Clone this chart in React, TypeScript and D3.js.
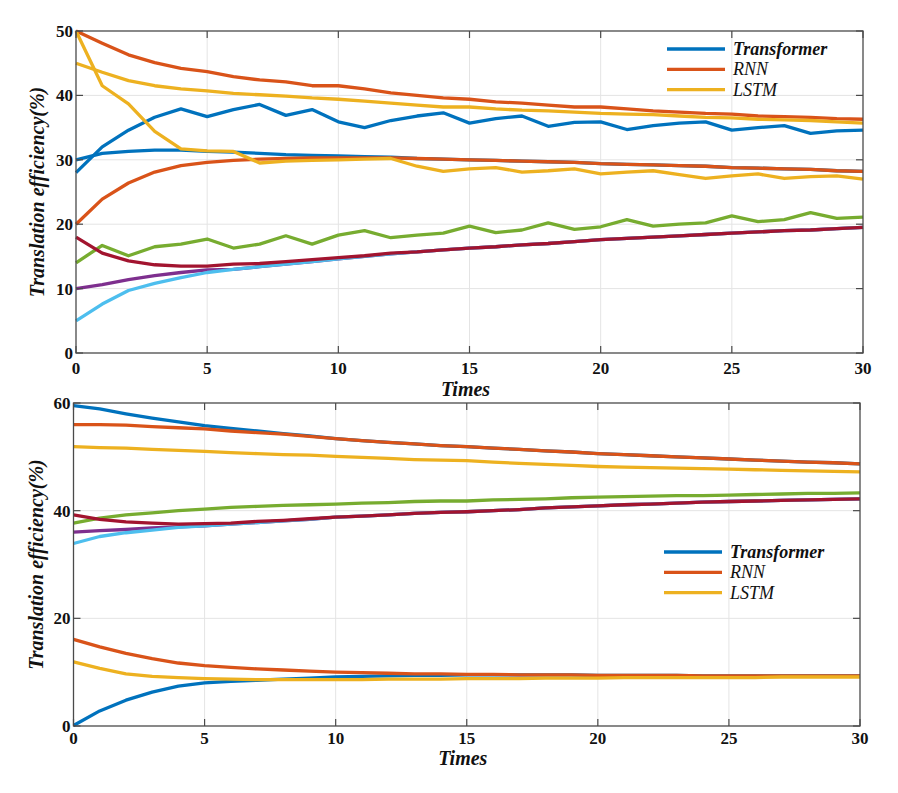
import React from 'react';
import * as d3 from 'd3';

const times = [0,1,2,3,4,5,6,7,8,9,10,11,12,13,14,15,16,17,18,19,20,21,22,23,24,25,26,27,28,29,30];
const xTicks = [0,5,10,15,20,25,30];
const topYTicks = [0,10,20,30,40,50];
const bottomYTicks = [0,20,40,60];
const legendNames = ['Transformer','RNN','LSTM'];

// MATLAB default colour order
const C = {
  blue: '#0072BD', orange: '#D95319', yellow: '#EDB120', purple: '#7E2F8E',
  green: '#77AC30', cyan: '#4DBEEE', wine: '#A2142F',
};

// ---- top panel ----
const topTransformerA = [28,32,34.6,36.6,37.9,36.7,37.8,38.6,36.9,37.8,35.9,35.0,36.1,36.8,37.3,35.7,36.4,36.8,35.2,35.8,35.9,34.7,35.3,35.7,35.9,34.6,35.0,35.3,34.1,34.5,34.6];
const topTransformerB = [30,31,31.3,31.5,31.5,31.3,31.2,31.0,30.8,30.7,30.6,30.5,30.4,30.2,30.1,30.0,29.9,29.8,29.7,29.6,29.4,29.3,29.2,29.1,29.0,28.8,28.7,28.6,28.5,28.3,28.2];
const topRnnA = [50,48.1,46.3,45.1,44.2,43.7,42.9,42.4,42.1,41.5,41.5,41.0,40.4,40.0,39.6,39.4,39.0,38.8,38.5,38.2,38.2,37.9,37.6,37.4,37.2,37.1,36.8,36.7,36.6,36.4,36.3];
const topRnnB = [20,23.9,26.4,28.1,29.1,29.6,29.9,30.1,30.2,30.3,30.3,30.3,30.3,30.2,30.1,30.0,29.9,29.8,29.7,29.6,29.4,29.3,29.2,29.1,29.0,28.8,28.7,28.6,28.5,28.3,28.2];
const topLstmA = [45,43.6,42.3,41.5,41.0,40.7,40.3,40.1,39.9,39.6,39.4,39.1,38.8,38.5,38.2,38.2,37.9,37.7,37.6,37.4,37.2,37.1,37.0,36.8,36.6,36.5,36.3,36.2,36.1,35.9,35.7];
const topLstmB = [50,41.5,38.7,34.4,31.7,31.4,31.3,29.5,29.8,29.9,30.0,30.1,30.2,29.0,28.2,28.6,28.8,28.1,28.3,28.6,27.8,28.1,28.3,27.7,27.1,27.5,27.8,27.1,27.4,27.5,27.0];
const topPurple = [10,10.6,11.4,12.0,12.5,12.9,13.0,13.4,13.8,14.2,14.6,15.0,15.4,15.7,16.0,16.3,16.5,16.8,17.0,17.3,17.6,17.8,18.0,18.2,18.4,18.6,18.8,19.0,19.1,19.3,19.5];
const topGreen = [14,16.7,15.1,16.5,16.9,17.7,16.3,16.9,18.2,16.9,18.3,19.0,17.9,18.3,18.6,19.7,18.7,19.1,20.2,19.2,19.6,20.7,19.7,20.0,20.2,21.3,20.4,20.7,21.8,20.9,21.1];
const topCyan = [5,7.6,9.7,10.8,11.7,12.5,13.0,13.4,13.8,14.2,14.6,15.0,15.4,15.7,16.0,16.3,16.5,16.8,17.0,17.3,17.6,17.8,18.0,18.2,18.4,18.6,18.8,19.0,19.1,19.3,19.5];
const topWine = [18,15.5,14.3,13.7,13.5,13.5,13.8,13.9,14.2,14.5,14.8,15.1,15.5,15.7,16.0,16.3,16.5,16.8,17.0,17.3,17.6,17.8,18.0,18.2,18.4,18.6,18.8,19.0,19.1,19.3,19.5];

// ---- bottom panel ----
const botTransformerA = [59.5,58.9,58.0,57.2,56.5,55.8,55.3,54.8,54.3,53.9,53.4,53.0,52.7,52.4,52.1,51.9,51.6,51.4,51.1,50.9,50.6,50.4,50.2,50.0,49.8,49.6,49.4,49.2,49.0,48.9,48.7];
const botTransformerB = [0.1,2.8,4.8,6.3,7.4,8.0,8.3,8.5,8.7,8.9,9.1,9.2,9.3,9.4,9.4,9.5,9.5,9.5,9.5,9.5,9.4,9.4,9.4,9.4,9.3,9.3,9.3,9.3,9.3,9.3,9.3];
const botRnnA = [56.0,56.0,55.9,55.6,55.4,55.2,54.8,54.5,54.2,53.8,53.4,53.0,52.7,52.4,52.1,51.9,51.6,51.4,51.1,50.9,50.6,50.4,50.2,50.0,49.8,49.6,49.4,49.2,49.0,48.9,48.7];
const botRnnB = [16.1,14.7,13.5,12.5,11.7,11.2,10.9,10.6,10.4,10.2,10.0,9.9,9.8,9.7,9.7,9.6,9.6,9.5,9.5,9.5,9.4,9.4,9.4,9.4,9.3,9.3,9.3,9.3,9.3,9.3,9.3];
const botLstmA = [51.9,51.7,51.6,51.4,51.2,51.0,50.8,50.6,50.4,50.3,50.1,49.9,49.7,49.5,49.4,49.3,49.0,48.8,48.6,48.4,48.2,48.1,48.0,47.9,47.8,47.7,47.6,47.5,47.4,47.3,47.2];
const botLstmB = [11.9,10.7,9.7,9.2,9.0,8.8,8.7,8.6,8.6,8.6,8.6,8.6,8.7,8.7,8.7,8.8,8.8,8.8,8.9,8.9,8.9,9.0,9.0,9.0,9.0,9.0,9.0,9.1,9.1,9.1,9.1];
const botPurple = [36.0,36.3,36.5,36.8,37.0,37.2,37.5,37.8,38.1,38.4,38.8,39.0,39.2,39.5,39.7,39.8,40.0,40.2,40.5,40.7,40.9,41.1,41.2,41.4,41.6,41.7,41.8,41.9,42.0,42.1,42.2];
const botGreen = [37.7,38.6,39.2,39.6,40.0,40.3,40.6,40.8,41.0,41.1,41.2,41.4,41.5,41.7,41.8,41.8,42.0,42.1,42.2,42.4,42.5,42.6,42.7,42.8,42.8,42.9,43.0,43.1,43.2,43.2,43.3];
const botCyan = [33.9,35.2,35.9,36.4,36.9,37.2,37.5,37.8,38.1,38.4,38.8,39.0,39.2,39.5,39.7,39.8,40.0,40.2,40.5,40.7,40.9,41.1,41.2,41.4,41.6,41.7,41.8,41.9,42.0,42.1,42.2];
const botWine = [39.2,38.4,37.9,37.7,37.5,37.6,37.7,38.0,38.2,38.5,38.8,39.0,39.2,39.5,39.7,39.8,40.0,40.2,40.5,40.7,40.9,41.1,41.2,41.4,41.6,41.7,41.8,41.9,42.0,42.1,42.2];

type Series = { values: number[]; color: string };

const topSeries: Series[] = [
  { values: topTransformerB, color: C.blue },
  { values: topTransformerA, color: C.blue },
  { values: topRnnA, color: C.orange },
  { values: topRnnB, color: C.orange },
  { values: topLstmA, color: C.yellow },
  { values: topLstmB, color: C.yellow },
  { values: topPurple, color: C.purple },
  { values: topGreen, color: C.green },
  { values: topCyan, color: C.cyan },
  { values: topWine, color: C.wine },
];
const botSeries: Series[] = [
  { values: botTransformerA, color: C.blue },
  { values: botTransformerB, color: C.blue },
  { values: botRnnA, color: C.orange },
  { values: botRnnB, color: C.orange },
  { values: botLstmA, color: C.yellow },
  { values: botLstmB, color: C.yellow },
  { values: botPurple, color: C.purple },
  { values: botGreen, color: C.green },
  { values: botCyan, color: C.cyan },
  { values: botWine, color: C.wine },
];

const FONT = 'Liberation Serif, Times New Roman, serif';
const AXIS = '#4a4a4a';
const GRID = '#e4e4e4';

type PanelProps = {
  x0: number; x1: number; yTop: number; yBot: number;
  yMax: number; yTicks: number[]; series: Series[];
  legendX: number; legendY: number; xLabelY: number; yLabelX: number; tickDy: number;
};

function Panel(p: PanelProps) {
  const x = d3.scaleLinear().domain([0, 30]).range([p.x0, p.x1]);
  const y = d3.scaleLinear().domain([0, p.yMax]).range([p.yBot, p.yTop]);
  const line = d3.line<number>().x((_, i) => x(times[i])).y(v => y(v));
  const tl = 7;
  const legendColors = [C.blue, C.orange, C.yellow];
  const tickStyle = { fontFamily: FONT, fontWeight: 'bold' as const, fontSize: 17 };
  const labelStyle = { fontFamily: FONT, fontWeight: 'bold' as const, fontStyle: 'italic' as const, fontSize: 20 };
  return (
    <g>
      {xTicks.slice(1, -1).map(t => (
        <line key={'gx' + t} x1={x(t)} x2={x(t)} y1={p.yTop} y2={p.yBot} stroke={GRID} strokeWidth={1} />
      ))}
      {p.yTicks.slice(1, -1).map(t => (
        <line key={'gy' + t} x1={p.x0} x2={p.x1} y1={y(t)} y2={y(t)} stroke={GRID} strokeWidth={1} />
      ))}
      {p.series.map((s, i) => (
        <path key={i} d={line(s.values) || ''} fill="none" stroke={s.color} strokeWidth={3.3} strokeLinejoin="round" strokeLinecap="butt" />
      ))}
      <rect x={p.x0} y={p.yTop} width={p.x1 - p.x0} height={p.yBot - p.yTop} fill="none" stroke={AXIS} strokeWidth={1.3} />
      {xTicks.map(t => (
        <g key={'tx' + t}>
          <line x1={x(t)} x2={x(t)} y1={p.yBot} y2={p.yBot - tl} stroke={AXIS} strokeWidth={1.2} />
          <line x1={x(t)} x2={x(t)} y1={p.yTop} y2={p.yTop + tl} stroke={AXIS} strokeWidth={1.2} />
          <text x={x(t)} y={p.yBot + p.tickDy} textAnchor="middle" style={tickStyle} fill="#111">{t}</text>
        </g>
      ))}
      {p.yTicks.map(t => (
        <g key={'ty' + t}>
          <line x1={p.x0} x2={p.x0 + tl} y1={y(t)} y2={y(t)} stroke={AXIS} strokeWidth={1.2} />
          <line x1={p.x1} x2={p.x1 - tl} y1={y(t)} y2={y(t)} stroke={AXIS} strokeWidth={1.2} />
          <text x={p.x0 - 3} y={y(t) + 6} textAnchor="end" style={tickStyle} fill="#111">{t}</text>
        </g>
      ))}
      <text x={(p.x0 + p.x1) / 2 - 4} y={p.xLabelY} textAnchor="middle" style={labelStyle} fill="#111">Times</text>
      <text transform={`translate(${p.yLabelX},${(p.yTop + p.yBot) / 2}) rotate(-90)`} textAnchor="middle" style={labelStyle} fill="#111">Translation efficiency(%)</text>
      {legendNames.map((n, i) => (
        <g key={n}>
          <line x1={p.legendX} x2={p.legendX + 58} y1={p.legendY + i * 20.3} y2={p.legendY + i * 20.3} stroke={legendColors[i]} strokeWidth={3.3} />
          <text x={p.legendX + 66} y={p.legendY + i * 20.3 + 6} style={{ fontFamily: FONT, fontStyle: 'italic', fontWeight: i === 0 ? 'bold' : 'normal', fontSize: 18 }} fill="#111">{n}</text>
        </g>
      ))}
    </g>
  );
}

export default function App() {
  return (
    <svg width={898} height={793} style={{ position: 'absolute', left: 0, top: 0, background: '#fff' }}>
      <rect x={0} y={0} width={898} height={793} fill="#fff" />
      <Panel x0={76} x1={863} yTop={31} yBot={353} yMax={50} yTicks={topYTicks} series={topSeries}
        legendX={667} legendY={49} xLabelY={396} yLabelX={44} tickDy={21} />
      <Panel x0={73.5} x1={860} yTop={403} yBot={726} yMax={60} yTicks={bottomYTicks} series={botSeries}
        legendX={664} legendY={552} xLabelY={765} yLabelX={43} tickDy={18} />
    </svg>
  );
}
